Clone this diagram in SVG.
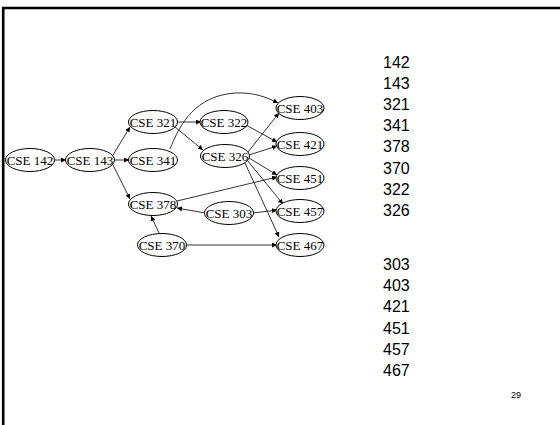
<svg xmlns="http://www.w3.org/2000/svg" width="560" height="425" viewBox="0 0 560 425">
<defs>
<marker id="ah" viewBox="0 0 10 10" refX="10" refY="5" markerWidth="5" markerHeight="5" orient="auto" markerUnits="userSpaceOnUse">
<path d="M0,0 L10,5 L0,10 z" fill="#000"/>
</marker>
</defs>
<style>
.n ellipse{fill:#fff;stroke:#000;stroke-width:1}
.n text{font-family:"Liberation Serif",serif;font-size:13px;text-anchor:middle;fill:#000}
.e path{fill:none;stroke:#000;stroke-width:0.8;marker-end:url(#ah)}
.lst{font-family:"Liberation Sans",Arial,sans-serif;font-size:16px;fill:#000}
</style>
<rect width="560" height="425" fill="#fff"/>
<path d="M3.2,425 V8 H560" fill="none" stroke="#000" stroke-width="2.6"/>
<g id="edges" class="e">
<path d="M55,160 L66,160"/>
<path d="M113,155 L130,127"/>
<path d="M114,160 L129,160"/>
<path d="M113,165 L130,199"/>
<path d="M177,122 L201,122"/>
<path d="M175,127 L203,150"/>
<path d="M170,149 C180,124 195,96 235,93 C255,92 268,98 278,103"/>
<path d="M248,152 L279,113"/>
<path d="M246,125 L277,142"/>
<path d="M249,155 L277,146"/>
<path d="M249,158 L277,175"/>
<path d="M247,160 L283,204"/>
<path d="M245,163 L279,237"/>
<path d="M177,201 L277,177"/>
<path d="M205,213 L177,208"/>
<path d="M253,213 L277,210"/>
<path d="M159,233 L151,216"/>
<path d="M186,245 L277,245"/>
</g>
<g id="n142" class="n"><ellipse cx="30" cy="160" rx="24.5" ry="11.5"/><text x="30" y="164.5">CSE 142</text></g>
<g id="n143" class="n"><ellipse cx="90" cy="160" rx="24.5" ry="11.5"/><text x="90" y="164.5">CSE 143</text></g>
<g id="n321" class="n"><ellipse cx="153" cy="122" rx="24.5" ry="11.5"/><text x="153" y="126.5">CSE 321</text></g>
<g id="n341" class="n"><ellipse cx="153" cy="160" rx="24.5" ry="11.5"/><text x="153" y="164.5">CSE 341</text></g>
<g id="n378" class="n"><ellipse cx="153" cy="204" rx="24.5" ry="11.5"/><text x="153" y="208.5">CSE 378</text></g>
<g id="n370" class="n"><ellipse cx="162" cy="245" rx="24.5" ry="11.5"/><text x="162" y="249.5">CSE 370</text></g>
<g id="n322" class="n"><ellipse cx="224" cy="122" rx="24" ry="11.5"/><text x="224" y="126.5">CSE 322</text></g>
<g id="n326" class="n"><ellipse cx="225" cy="156" rx="24.5" ry="11.5"/><text x="225" y="160.5">CSE 326</text></g>
<g id="n303" class="n"><ellipse cx="229" cy="213" rx="24.5" ry="11.5"/><text x="229" y="217.5">CSE 303</text></g>
<g id="n403" class="n"><ellipse cx="300" cy="108" rx="24" ry="11.5"/><text x="300" y="112.5">CSE 403</text></g>
<g id="n421" class="n"><ellipse cx="300" cy="144" rx="24" ry="11.5"/><text x="300" y="148.5">CSE 421</text></g>
<g id="n451" class="n"><ellipse cx="300" cy="178" rx="24" ry="11.5"/><text x="300" y="182.5">CSE 451</text></g>
<g id="n457" class="n"><ellipse cx="300" cy="211" rx="24" ry="11.5"/><text x="300" y="215.5">CSE 457</text></g>
<g id="n467" class="n"><ellipse cx="300" cy="245" rx="24" ry="11.5"/><text x="300" y="249.5">CSE 467</text></g>
<g id="list" class="lst">
<text x="383" y="68">142</text>
<text x="383" y="89">143</text>
<text x="383" y="110">321</text>
<text x="383" y="131">341</text>
<text x="383" y="152">378</text>
<text x="383" y="174">370</text>
<text x="383" y="195">322</text>
<text x="383" y="216">326</text>
<text x="383" y="270">303</text>
<text x="383" y="291">403</text>
<text x="383" y="312">421</text>
<text x="383" y="334">451</text>
<text x="383" y="355">457</text>
<text x="383" y="376">467</text>
</g>
<text x="516" y="398" font-family="'Liberation Sans',Arial,sans-serif" font-size="9" text-anchor="middle">29</text>
</svg>
